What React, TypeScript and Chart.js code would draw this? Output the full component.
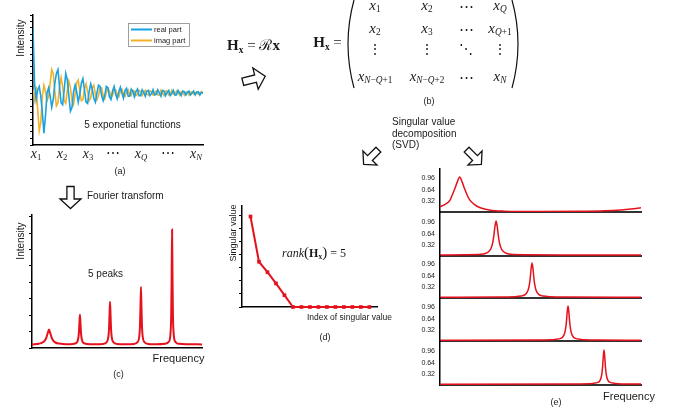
import React, { useEffect, useRef } from 'react';
import { Chart, registerables } from 'chart.js';

Chart.register(...registerables);

const SANS = '"Liberation Sans", Arial, Helvetica, sans-serif';
const SERIF = '"Liberation Serif", "Times New Roman", "DejaVu Serif", serif';
Chart.defaults.font.family = SANS;
Chart.defaults.color = '#222';

// ---------- (a) time-domain signal ----------
const realPart = [
  1.0, 0.15, -0.1, 0.05, 0.1, -0.05, -0.3, -0.62, -0.35, 0.0,
  0.08, -0.05, -0.22, -0.1, 0.15, 0.3, 0.36, 0.1, -0.15, -0.18,
  0.05, 0.3, 0.2, -0.05, -0.28, -0.22, 0.02, 0.12, 0.02, -0.14,
  -0.02, 0.15, 0.22, 0.05, -0.14, -0.16, 0.02, 0.14, 0.06, -0.08,
  -0.14, 0.0, 0.12, 0.1, -0.04, -0.12, -0.04, 0.1, 0.08, -0.06,
  -0.1, 0.03, 0.1, -0.02, -0.09, 0.02, 0.09, 0.0, -0.08, 0.04,
  0.07, -0.05, -0.05, 0.06, 0.03, -0.06, 0.02, 0.06, -0.04, -0.04,
  0.05, 0.01, -0.05, 0.03, 0.04, -0.04, -0.01, 0.05, -0.03, -0.02,
  0.05, 0.0, -0.05, 0.04, 0.03, -0.04, 0.01, 0.04, -0.04, -0.01,
  0.04, -0.03, -0.03, 0.04, 0.0, -0.04, 0.03, 0.02, -0.03, 0.01,
  0.03, -0.03, 0.0, 0.03, -0.03, 0.01, 0.02, -0.03, 0.01, 0.0,
];
const imagPart = [
  0.05, -0.1, 0.1, -0.25, -0.58, -0.45, -0.05, 0.12, 0.02, -0.12,
  -0.05, 0.15, 0.36, 0.3, 0.02, -0.2, -0.15, 0.1, 0.24, 0.1,
  -0.12, -0.16, 0.04, 0.18, 0.08, -0.12, -0.18, -0.02, 0.16, 0.2,
  0.02, -0.12, -0.1, 0.06, 0.14, 0.02, -0.12, -0.08, 0.08, 0.12,
  -0.02, -0.1, -0.04, 0.08, 0.08, -0.04, -0.09, 0.01, 0.08, 0.03,
  -0.07, -0.04, 0.06, 0.05, -0.04, -0.06, 0.03, 0.06, -0.02, -0.05,
  0.02, 0.05, -0.03, -0.04, 0.04, 0.03, -0.04, -0.02, 0.04, 0.02,
  -0.04, 0.01, 0.04, -0.02, -0.03, 0.03, 0.02, -0.03, 0.0, 0.03,
  -0.03, -0.03, 0.04, 0.0, -0.04, 0.03, 0.03, -0.03, -0.02, 0.04,
  -0.01, -0.03, 0.03, 0.01, -0.03, 0.02, 0.02, -0.03, 0.01, 0.02,
  -0.03, 0.01, 0.02, -0.02, 0.0, 0.02, -0.02, 0.0, 0.02, -0.01,
];
const seriesLabels = ['real part', 'imag part'];
const sampleTicks = ['1', '2', '3', '⋯', 'Q', '⋯', 'N'];

// ---------- (c) spectrum ----------
const specX = [
  0, 4, 6, 7.5, 8.5, 9.3, 10, 10.7, 11.5, 12.5, 14, 16, 20,
  24.2, 26.2, 27.2, 27.6, 27.9, 28.2, 28.5, 28.8, 29.2, 30.2, 32.2, 37,
  41.9, 43.9, 44.9, 45.3, 45.6, 45.9, 46.2, 46.5, 46.9, 47.9, 49.9, 55,
  60.1, 62.1, 63.1, 63.5, 63.8, 64.1, 64.4, 64.7, 65.1, 66.1, 68.1, 73,
  78.4, 80.4, 81.4, 81.9, 82.15, 82.4, 82.65, 82.9, 83.4, 84.4, 86.4, 92, 100,
];
const specY = [
  0.22, 0.26, 0.32, 0.45, 0.65, 0.92, 1.12, 0.92, 0.65, 0.45, 0.32, 0.27, 0.23,
  0.25, 0.32, 0.58, 0.95, 1.54, 2.02, 1.54, 0.95, 0.58, 0.32, 0.25, 0.23,
  0.25, 0.35, 0.66, 1.16, 2.02, 2.82, 2.02, 1.16, 0.66, 0.35, 0.25, 0.23,
  0.25, 0.36, 0.7, 1.3, 2.46, 3.72, 2.46, 1.3, 0.7, 0.36, 0.25, 0.23,
  0.26, 0.37, 0.8, 2.07, 4.35, 7.22, 4.35, 2.07, 0.8, 0.37, 0.26, 0.23, 0.22,
];

// ---------- (d) singular values ----------
const svIndex = [1, 2, 3, 4, 5, 6, 7, 8, 9, 10, 11, 12, 13, 14, 15];
const svValue = [6.9, 3.45, 2.65, 1.8, 0.9, 0, 0, 0, 0, 0, 0, 0, 0, 0, 0];

// ---------- (e) components ----------
const comp1X = [0, 2.6, 5.0, 6.2, 7.4, 8.6, 9.8, 11.0, 12.2, 13.4, 14.6, 17.0, 20, 25, 32, 50, 70, 82, 90, 95, 100];
const comp1Y = [0.15, 0.22, 0.34, 0.5, 0.67, 0.86, 1.0, 0.86, 0.67, 0.5, 0.36, 0.22, 0.12, 0.05, 0.025, 0.015, 0.02, 0.035, 0.06, 0.085, 0.12];
const comp2X = [0, 12, 20.4, 22.9, 24.15, 25.4, 26.025, 26.65, 27.275, 27.9, 28.525, 29.15, 29.775, 30.4, 31.65, 32.9, 35.4, 43, 60, 100];
const comp2Y = [0.03, 0.035, 0.047, 0.08, 0.12, 0.22, 0.33, 0.52, 0.82, 1.0, 0.82, 0.52, 0.33, 0.22, 0.12, 0.08, 0.047, 0.035, 0.03, 0.03];
const comp3X = [0, 30, 38.3, 41.8, 42.8, 43.8, 44.3, 44.8, 45.3, 45.8, 46.3, 46.8, 47.3, 47.8, 48.8, 49.8, 53.3, 62, 100];
const comp3Y = [0.02, 0.03, 0.045, 0.08, 0.12, 0.22, 0.33, 0.52, 0.82, 1.0, 0.82, 0.52, 0.33, 0.22, 0.12, 0.08, 0.045, 0.03, 0.02];
const comp4X = [0, 48, 57.3, 60.3, 61.15, 62.0, 62.425, 62.85, 63.275, 63.7, 64.125, 64.55, 64.975, 65.4, 66.25, 67.1, 70.1, 79, 100];
const comp4Y = [0.02, 0.03, 0.045, 0.08, 0.12, 0.22, 0.33, 0.52, 0.82, 1.0, 0.82, 0.52, 0.33, 0.22, 0.12, 0.08, 0.045, 0.03, 0.02];
const comp5X = [0, 66, 76.0, 78.8, 79.5, 80.2, 80.55, 80.9, 81.25, 81.6, 81.95, 82.3, 82.65, 83.0, 83.7, 84.4, 87.2, 95, 100];
const comp5Y = [0.02, 0.03, 0.045, 0.08, 0.12, 0.22, 0.33, 0.52, 0.82, 1.0, 0.82, 0.52, 0.33, 0.22, 0.12, 0.08, 0.045, 0.03, 0.03];
const compTicks = [0.32, 0.64, 0.96];

const RED = '#e5121d';
const BLUE = '#17a2e2';
const ORANGE = '#f1b12a';

// ---------- helpers ----------
function geom(L: number, T: number, R: number, B: number, yW: number, xH: number) {
  const p = 3;
  return { left: L - yW - p, top: T - p, width: R - L + yW + 2 * p, height: B - T + xH + 2 * p, pad: p };
}
function zeroPad(s: any) {
  s.paddingTop = 0; s.paddingBottom = 0; s.paddingLeft = 0; s.paddingRight = 0;
}
const fitW = (w: number) => (s: any) => { s.width = w; zeroPad(s); };
const fitH = (h: number) => (s: any) => { s.height = h; zeroPad(s); };

function xAxis(min: number, max: number, h: number, color = '#000', width = 1.5) {
  return {
    type: 'linear', min, max, display: true,
    ticks: { display: false },
    grid: { display: false, drawTicks: false },
    border: { display: true, color, width },
    afterFit: fitH(h),
  };
}
function yAxisMarks(min: number, max: number, step: number, w: number) {
  return {
    type: 'linear', min, max,
    ticks: { display: false, stepSize: step, includeBounds: false, autoSkip: false },
    grid: { display: true, drawOnChartArea: false, drawTicks: true, tickLength: 3, color: '#000', lineWidth: 1 },
    border: { display: true, color: '#000', width: 1.5 },
    afterFit: fitW(w),
  };
}
function baseOptions(pad: number, scales: any) {
  return {
    responsive: false, animation: false, devicePixelRatio: 1, events: [],
    layout: { padding: pad },
    plugins: { legend: { display: false }, tooltip: { enabled: false }, title: { display: false } },
    scales,
  };
}
const pts = (xs: number[], ys: number[]) => xs.map((x, i) => ({ x, y: ys[i] }));

function ChartBox({ g, config }: any) {
  const ref = useRef<HTMLCanvasElement | null>(null);
  useEffect(() => {
    const chart = new Chart(ref.current as HTMLCanvasElement, config);
    return () => chart.destroy();
  }, []);
  return (
    <div style={{ position: 'absolute', left: g.left, top: g.top, width: g.width, height: g.height }}>
      <canvas ref={ref} width={g.width} height={g.height} style={{ display: 'block', width: g.width, height: g.height }} />
    </div>
  );
}

// ---------- chart configs ----------
const gA = geom(33, 15, 203, 145, 4, 2);
const cfgA = {
  type: 'line',
  data: {
    datasets: [
      { label: seriesLabels[0], data: realPart.map((y, i) => ({ x: i, y })), borderColor: BLUE, borderWidth: 1.6, pointRadius: 0, tension: 0 },
      { label: seriesLabels[1], data: imagPart.map((y, i) => ({ x: i, y })), borderColor: ORANGE, borderWidth: 1.6, pointRadius: 0, tension: 0 },
    ],
  },
  options: baseOptions(gA.pad, { x: xAxis(0, realPart.length - 1, 2), y: yAxisMarks(-0.8, 1.2, 0.1, 4) }),
};

const gC = geom(32, 215, 202, 348, 4, 2);
const cfgC = {
  type: 'line',
  data: { datasets: [{ label: 'spectrum', data: pts(specX, specY), borderColor: RED, borderWidth: 2, pointRadius: 0, cubicInterpolationMode: 'monotone' }] },
  options: baseOptions(gC.pad, { x: xAxis(0, 100, 2), y: yAxisMarks(0, 8.1, 1, 4) }),
};

const gD = geom(242, 205, 378, 307, 4, 2);
const cfgD = {
  type: 'line',
  data: {
    datasets: [{
      label: 'singular value', data: pts(svIndex, svValue), borderColor: RED, backgroundColor: RED,
      borderWidth: 2, pointRadius: 2.6, pointStyle: 'rect', pointBorderWidth: 0, clip: false,
    }],
  },
  options: baseOptions(gD.pad, { x: xAxis(0, 15.9, 2), y: yAxisMarks(0, 7.7, 1, 4) }),
};

const compXs = [comp1X, comp2X, comp3X, comp4X, comp5X];
const compYs = [comp1Y, comp2Y, comp3Y, comp4Y, comp5Y];
const eTops = [169, 212, 256, 298, 341];
const eBottoms = [212, 256, 298, 341, 385];
const eCharts = compXs.map((xs, k) => {
  const g = geom(440, eTops[k], 641, eBottoms[k], 22, 2);
  const cfg = {
    type: 'line',
    data: { datasets: [{ label: 'component ' + (k + 1), data: pts(xs, compYs[k]), borderColor: RED, borderWidth: 1.5, pointRadius: 0, cubicInterpolationMode: 'monotone' }] },
    options: baseOptions(g.pad, {
      x: xAxis(0, 100, 2, '#333', 2),
      y: {
        type: 'linear', min: 0, max: (eBottoms[k] - eTops[k]) / 35,
        afterBuildTicks: (s: any) => { s.ticks = compTicks.map((v) => ({ value: v })); },
        ticks: { padding: 5, autoSkip: false, font: { size: 7 }, color: '#222', callback: (v: any) => String(v) },
        grid: { display: false, drawTicks: false },
        border: { display: true, color: '#000', width: 1.5 },
        afterFit: fitW(22),
      },
    }),
  };
  return { g, cfg };
});

// ---------- overlay ----------
function Txt({ x, y, s = 10, f = SANS, a = 'c', rot = 0, style = {}, children }: any) {
  const tx = a === 'c' ? '-50%' : a === 'l' ? '0' : '-100%';
  return (
    <div style={{
      position: 'absolute', left: x, top: y, transform: `translate(${tx},-50%)` + (rot ? ` rotate(${rot}deg)` : ''),
      transformOrigin: a === 'c' ? 'center' : 'left center',
      fontFamily: f, fontSize: s, lineHeight: 1, whiteSpace: 'nowrap', color: '#1a1a1a', ...style,
    }}>{children}</div>
  );
}
const Sub = ({ children }: any) => (
  <span style={{ fontSize: '0.62em', position: 'relative', top: '0.32em' }}>{children}</span>
);
const XS = ({ children }: any) => (<span><i>x</i><Sub>{children}</Sub></span>);

function Arrow({ cx, cy, rot, s = 1 }: any) {
  return (
    <g transform={`translate(${cx} ${cy}) rotate(${rot}) scale(${s})`}>
      <path d="M -11 -3.6 L 1.5 -3.6 L 1.5 -10.5 L 11 0 L 1.5 10.5 L 1.5 3.6 L -11 3.6 Z"
        fill="#fff" stroke="#111" strokeWidth={1.3 / s} strokeLinejoin="miter" />
    </g>
  );
}

const colX = [375, 427, 466, 500];
const rowY = [4.5, 27.5, 50, 75.5];

export default function App() {
  return (
    <div style={{ position: 'absolute', left: 0, top: 0, width: 678, height: 412, overflow: 'hidden', background: '#fff' }}>
      <ChartBox g={gA} config={cfgA} />
      <ChartBox g={gC} config={cfgC} />
      <ChartBox g={gD} config={cfgD} />
      {eCharts.map((e, k) => <ChartBox key={k} g={e.g} config={e.cfg} />)}

      <svg width={678} height={412} style={{ position: 'absolute', left: 0, top: 0 }}>
        {/* legend box (a) */}
        <rect x={128.5} y={23.5} width={61} height={23} fill="#fff" stroke="#888" strokeWidth={0.8} />
        <line x1={131} y1={29.5} x2={152} y2={29.5} stroke={BLUE} strokeWidth={2} />
        <line x1={131} y1={40.5} x2={152} y2={40.5} stroke={ORANGE} strokeWidth={2} />
        {/* arrows */}
        <Arrow cx={70.5} cy={197.5} rot={90} />
        <Arrow cx={254} cy={79} rot={-14} s={1.05} />
        <Arrow cx={371} cy={157} rot={135} s={0.95} />
        <Arrow cx={474} cy={157} rot={45} s={0.95} />
        {/* matrix brackets */}
        <path d="M 354 0 Q 342 44 354 88" fill="none" stroke="#111" strokeWidth={1.2} />
        <path d="M 512 0 Q 524 44 512 88" fill="none" stroke="#111" strokeWidth={1.2} />
      </svg>

      {/* (a) texts */}
      <Txt x={20.5} y={38} s={10} rot={-90}>Intensity</Txt>
      <Txt x={154} y={29.5} s={7.5} a="l">{seriesLabels[0]}</Txt>
      <Txt x={154} y={40.5} s={7.5} a="l">{seriesLabels[1]}</Txt>
      <Txt x={132.5} y={125} s={10}>5 exponetial functions</Txt>
      {sampleTicks.map((t, i) => (
        <Txt key={i} x={[36, 62, 88, 113, 141, 168, 196][i]} y={153.5} s={14} f={SERIF}>
          {t === '⋯' ? '⋯' : <XS>{t === 'Q' || t === 'N' ? <i>{t}</i> : t}</XS>}
        </Txt>
      ))}
      <Txt x={120} y={171} s={9}>(a)</Txt>

      {/* (c) texts */}
      <Txt x={87} y={196} s={10} a="l">Fourier transform</Txt>
      <Txt x={20.5} y={241} s={10} rot={-90}>Intensity</Txt>
      <Txt x={105.5} y={274} s={10}>5 peaks</Txt>
      <Txt x={178.5} y={358} s={11}>Frequency</Txt>
      <Txt x={118.5} y={374} s={9}>(c)</Txt>

      {/* (d) texts */}
      <Txt x={233} y={233} s={9} rot={-90}>Singular value</Txt>
      <Txt x={314} y={252} s={12} f={SERIF}>
        <i>rank</i><span style={{ fontSize: '1.25em' }}>(</span><b>H</b><Sub><b>x</b></Sub><span style={{ fontSize: '1.25em' }}>)</span> = 5
      </Txt>
      <Txt x={349.5} y={317} s={8.5}>Index of singular value</Txt>
      <Txt x={325} y={337} s={9}>(d)</Txt>

      {/* (b) texts */}
      <Txt x={253.5} y={45} s={15} f={SERIF}><b>H</b><Sub><b>x</b></Sub> = ℛ<b>x</b></Txt>
      <Txt x={327.5} y={42} s={15} f={SERIF}><b>H</b><Sub><b>x</b></Sub> =</Txt>
      <Txt x={colX[0]} y={rowY[0]} s={15} f={SERIF}><XS>1</XS></Txt>
      <Txt x={colX[1]} y={rowY[0]} s={15} f={SERIF}><XS>2</XS></Txt>
      <Txt x={colX[2]} y={rowY[0] + 1.5} s={15} f={SERIF}>⋯</Txt>
      <Txt x={colX[3]} y={rowY[0]} s={15} f={SERIF}><XS><i>Q</i></XS></Txt>
      <Txt x={colX[0]} y={rowY[1]} s={15} f={SERIF}><XS>2</XS></Txt>
      <Txt x={colX[1]} y={rowY[1]} s={15} f={SERIF}><XS>3</XS></Txt>
      <Txt x={colX[2]} y={rowY[1] + 1.5} s={15} f={SERIF}>⋯</Txt>
      <Txt x={colX[3]} y={rowY[1]} s={15} f={SERIF}><XS><i>Q</i>+1</XS></Txt>
      <Txt x={colX[0]} y={rowY[2]} s={14} f={SERIF}>⋮</Txt>
      <Txt x={colX[1]} y={rowY[2]} s={14} f={SERIF}>⋮</Txt>
      <Txt x={colX[2]} y={rowY[2]} s={14} f={SERIF}>⋱</Txt>
      <Txt x={colX[3]} y={rowY[2]} s={14} f={SERIF}>⋮</Txt>
      <Txt x={colX[0]} y={rowY[3]} s={15} f={SERIF}><XS><i>N</i>−<i>Q</i>+1</XS></Txt>
      <Txt x={colX[1]} y={rowY[3]} s={15} f={SERIF}><XS><i>N</i>−<i>Q</i>+2</XS></Txt>
      <Txt x={colX[2]} y={rowY[3] + 1.5} s={15} f={SERIF}>⋯</Txt>
      <Txt x={colX[3]} y={rowY[3]} s={15} f={SERIF}><XS><i>N</i></XS></Txt>
      <Txt x={429} y={101} s={9}>(b)</Txt>

      {/* SVD text */}
      <Txt x={392} y={122} s={10} a="l">Singular value</Txt>
      <Txt x={392} y={133.5} s={10} a="l">decomposition</Txt>
      <Txt x={392} y={145} s={10} a="l">(SVD)</Txt>

      {/* (e) texts */}
      <Txt x={629} y={396} s={11}>Frequency</Txt>
      <Txt x={556} y={402} s={9}>(e)</Txt>
    </div>
  );
}
